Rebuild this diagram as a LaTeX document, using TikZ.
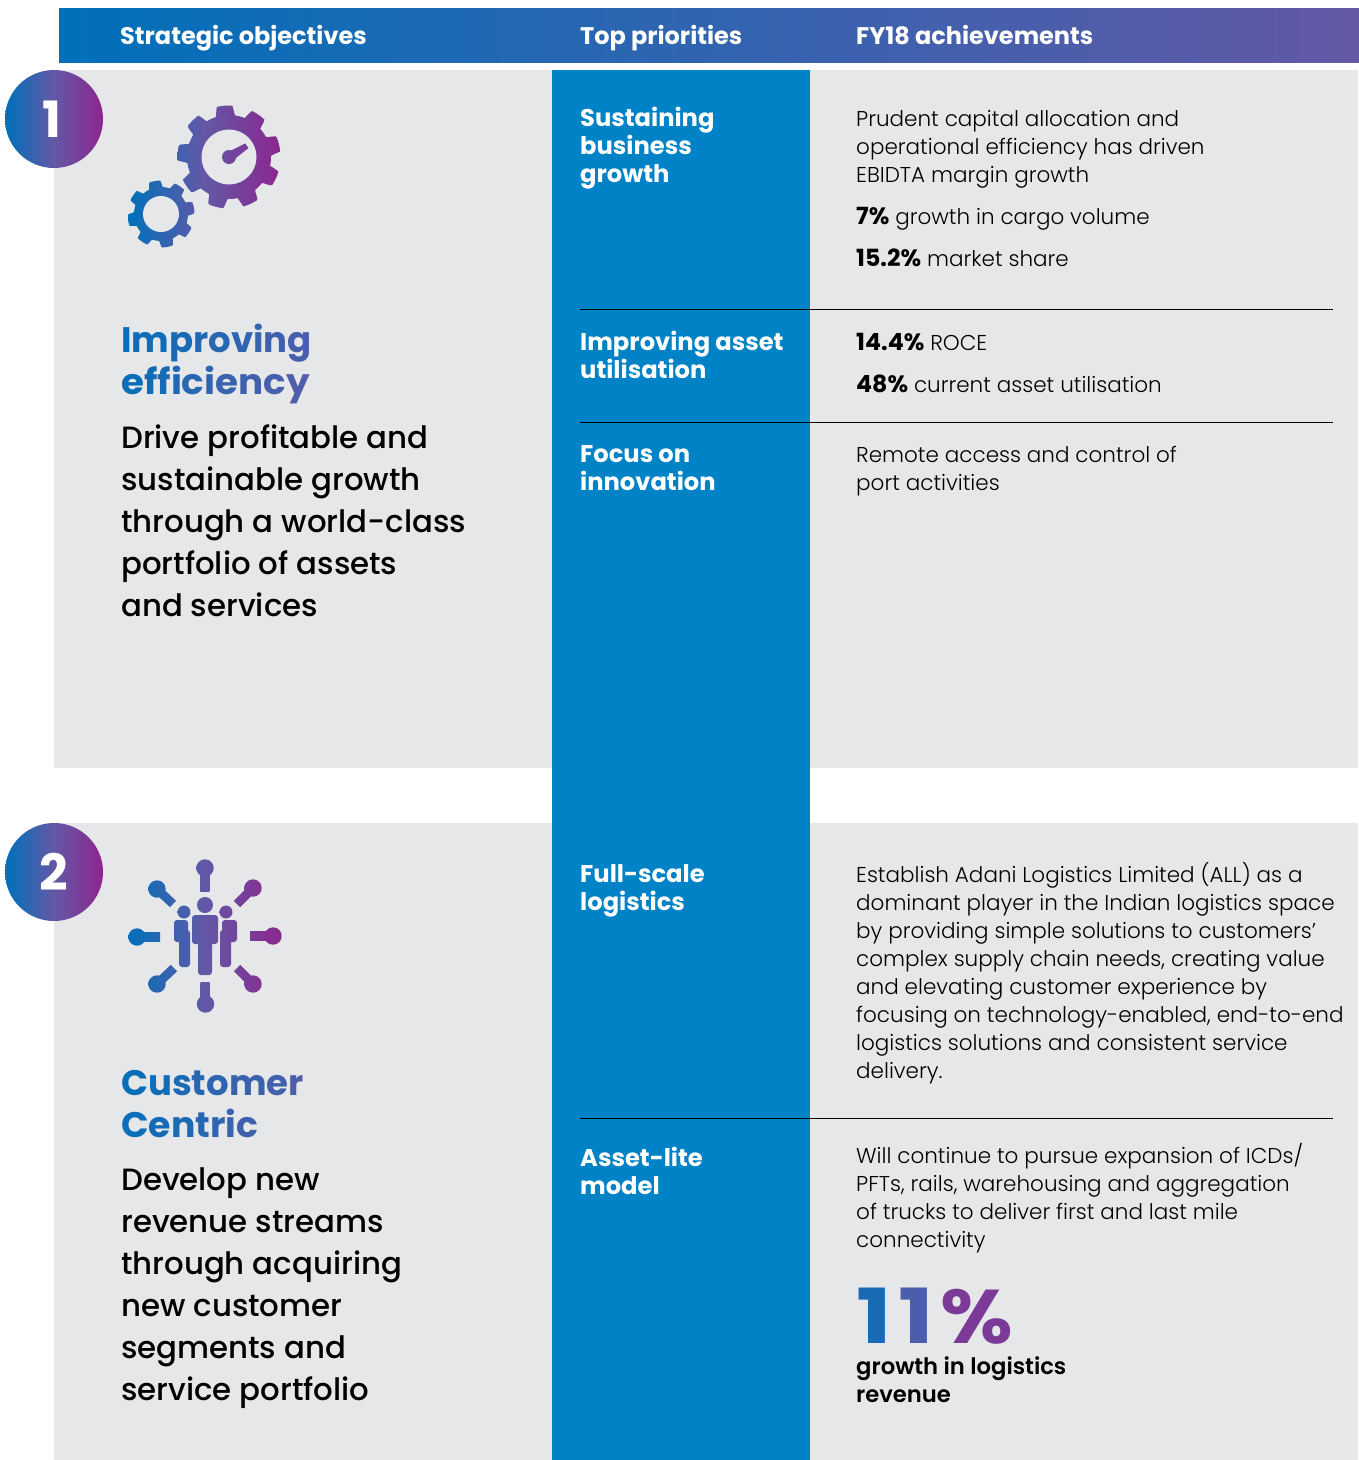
\documentclass[tikz,border=0pt]{standalone}
\usepackage{fontspec}
\setmainfont{Poppins}
\newfontfamily\fL{Poppins}[UprightFont=* Light, BoldFont=* Bold, BoldFeatures={Scale=1.1}]
\newfontfamily\fM{Poppins}[UprightFont=* Medium, BoldFont=* Bold]
\newfontfamily\fS{Poppins}[UprightFont=* SemiBold, BoldFont=* Bold]
\definecolor{gA}{HTML}{0070BA}
\definecolor{gM}{HTML}{6358A6}
\definecolor{gB}{HTML}{8C268E}
\definecolor{panel}{HTML}{E6E7E9}
\definecolor{band}{HTML}{0082C6}
\newcount\gc
\makeatletter
\newcommand\gradword[3]{\gc=#1\relax\@tfor\gtok:=#3\do{\color{gM!\the\gc!gA}\gtok\global\advance\gc by #2\relax}}
\makeatother
% fill a shape with a gradient shared by the whole icon spanning x=#1..#2
\newcommand\gshape[3]{\begin{scope}\clip #3;\shade[left color=gA,right color=gB,middle color=gM] (#1,800) rectangle (#2,1100);\end{scope}}
\newcommand\gshapeB[3]{\begin{scope}\clip #3;\shade[left color=gA,right color=gB,middle color=gM] (#1,60) rectangle (#2,300);\end{scope}}
\tikzset{
 x=1pt,y=-1pt,
 body/.style={anchor=base west,inner sep=0pt,align=left,text=black,font=\fL\fontsize{21.5}{28}\selectfont},
 prio/.style={anchor=base west,inner sep=0pt,align=left,text=white,font=\fM\bfseries\fontsize{24.2}{28}\selectfont},
 hdr/.style={anchor=base west,inner sep=0pt,text=white,font=\fM\bfseries\fontsize{24}{28}\selectfont},
 title/.style={anchor=base west,inner sep=0pt,align=left,font=\fM\bfseries\fontsize{35.5}{42}\selectfont},
 desc/.style={anchor=base west,inner sep=0pt,align=left,text=black,font=\fM\fontsize{30.8}{42}\selectfont},
 numeral/.style={inner sep=0pt,text=white,font=\fM\bfseries\fontsize{50}{50}\selectfont},
 rulel/.style={draw=black,line width=1pt},
}
\begin{document}
\begin{tikzpicture}
\useasboundingbox (0,0) rectangle (1359,1460);
\shade[left color=gA,right color=gM] (59,8) rectangle (1359,62.7);
\fill[panel] (54,70) rectangle (1358,768);
\fill[panel] (54,823) rectangle (1358,1460);
\fill[band] (552,70) rectangle (810,1460);
% header
\node[hdr] (h1) at (120,44) {Strategic objectives};
\node[hdr] (h2) at (580,44) {Top priorities};
\node[hdr] (h3) at (856,44) {FY18 achievements};
% number badges
\shade[left color=gA,right color=gB,middle color=gM] (54,119) circle (49);
\shade[left color=gA,right color=gB,middle color=gM] (54,872) circle (49);
\node[numeral] (n1) at (52,119) {1};
\node[numeral] (n2) at (54,872) {2};
% gears
\gshapeB{128}{281}{(161,214) plot[domain=0:360,samples=200,variable=\t] ({161+(27+6.5*min(1,max(0,0.7+1.6*cos(8*(\t+101)))))*cos(\t)},{214+(27+6.5*min(1,max(0,0.7+1.6*cos(8*(\t+101)))))*sin(\t)}) -- cycle}
\gshapeB{128}{281}{(229,157) plot[domain=0:360,samples=240,variable=\t] ({229+(42+9.5*min(1,max(0,0.7+1.6*cos(9*(\t+95)))))*cos(\t)},{157+(42+9.5*min(1,max(0,0.7+1.6*cos(9*(\t+95)))))*sin(\t)}) -- cycle}
\fill[panel] (161,214) circle (18);
\fill[panel] (229,157) circle (27.5);
\gshapeB{128}{281}{(229,157) circle (7)}
\gshapeB{128}{281}{(226,153) -- (245,143.5) -- (248.5,148) -- (232,161) -- cycle}
% network icon
\gshape{128}{282}{(205,868) circle (8.7)}
\gshape{128}{282}{(200.3,868) rectangle (209.3,891)}
\gshape{128}{282}{(205.5,1004) circle (8.7)}
\gshape{128}{282}{(200.7,982) rectangle (209.7,1004)}
\gshape{128}{282}{(137,937) circle (8.7)}
\gshape{128}{282}{(137,932.5) rectangle (160,941.5)}
\gshape{128}{282}{(273,936) circle (8.7)}
\gshape{128}{282}{(250,931.5) rectangle (273,940.5)}
\gshape{128}{282}{(157,889) circle (8.7)}
\gshape{128}{282}{(160.2,885.8) -- (176,900.8) -- (170,907.2) -- (153.8,892.2) -- cycle}
\gshape{128}{282}{(253,888) circle (8.7)}
\gshape{128}{282}{(249.8,884.8) -- (256.2,891.2) -- (240.2,907.2) -- (233.8,900.8) -- cycle}
\gshape{128}{282}{(157,984) circle (8.7)}
\gshape{128}{282}{(153.8,980.8) -- (170.8,964.8) -- (177.2,971.2) -- (160.2,987.2) -- cycle}
\gshape{128}{282}{(253,984) circle (8.7)}
\gshape{128}{282}{(256.2,980.8) -- (240.2,964.8) -- (233.8,971.2) -- (249.8,987.2) -- cycle}
\gshape{128}{282}{(205,905) circle (8)}
\gshape{128}{282}{(184,912) circle (6.5)}
\gshape{128}{282}{(226,912) circle (6.5)}
\begin{scope}[rounded corners=3pt]
\gshape{128}{282}{(192,915) rectangle (218,944)}
\gshape{128}{282}{(198,930) rectangle (212,975)}
\gshape{128}{282}{(174,920) rectangle (188,942)}
\gshape{128}{282}{(179,930) rectangle (190,967)}
\gshape{128}{282}{(222,920) rectangle (237,942)}
\gshape{128}{282}{(220,930) rectangle (231,967)}
\end{scope}
% left column
\node[title] (t1) at (121,394) {\gradword{8}{8}{Improving}\\\scalebox{1.05}[1]{\gradword{8}{8}{efficiency}}};
\node[desc] (d1) at (121,616) {Drive profitable and\\sustainable growth\\through a world-class\\portfolio of assets\\and services};
\node[title] (t2) at (121,1137) {\gradword{8}{10}{Customer}\\\scalebox{1.02}[1]{\gradword{10}{9}{Centric}}};
\node[desc] (d2) at (121,1400) {Develop new\\revenue streams\\through acquiring\\new customer\\segments and\\service portfolio};
% priorities
\node[prio] (p1) at (580,182) {Sustaining\\business\\growth};
\node[prio] (p2) at (580,378) {Improving asset\\utilisation};
\node[prio] (p3) at (580,490) {Focus on\\innovation};
\node[prio] (p4) at (580,910) {Full-scale\\logistics};
\node[prio] (p5) at (580,1194) {Asset-lite\\model};
% achievements
\node[body] (a1) at (856,182) {Prudent capital allocation and\\operational efficiency has driven\\EBIDTA margin growth};
\node[body] (a2) at (856,224) {\textbf{7\%} growth in cargo volume};
\node[body] (a3) at (856,266) {\textbf{15.2\%} market share};
\node[body] (a4) at (856,350) {\textbf{14.4\%} ROCE};
\node[body] (a5) at (856,392) {\textbf{48\%} current asset utilisation};
\node[body] (a6) at (856,490) {Remote access and control of\\port activities};
\node[body] (a7) at (856,1078) {Establish Adani Logistics Limited (ALL) as a\\dominant player in the Indian logistics space\\by providing simple solutions to customers’\\complex supply chain needs, creating value\\and elevating customer experience by\\focusing on technology-enabled, end-to-end\\logistics solutions and consistent service\\delivery.};
\node[body] (a8) at (856,1247) {Will continue to pursue expansion of ICDs/\\PFTs, rails, warehousing and aggregation\\of trucks to deliver first and last mile\\connectivity};
\node[anchor=base west,inner sep=0pt,font=\fM\bfseries\fontsize{76}{76}\selectfont] (big) at (856,1343) {\scalebox{1.25}[1]{\color{gM!25!gA}1}\kern7pt\scalebox{1.25}[1]{\color{gM!75!gA}1}\kern6pt\scalebox{1.1}[1]{\color{gM!40!gB}\%}};
\node[anchor=base west,inner sep=0pt,align=left,text=black,font=\fS\fontsize{22.7}{28}\selectfont] (cap) at (856,1402) {growth in logistics\\revenue};
% rules
\coordinate (r1a) at (580,309.5); \coordinate (r1b) at (1333,309.5);
\coordinate (r2a) at (580,422.5); \coordinate (r2b) at (1333,422.5);
\coordinate (r3a) at (580,1118.5); \coordinate (r3b) at (1333,1118.5);
\draw[rulel] (r1a) -- (r1b);
\draw[rulel] (r2a) -- (r2b);
\draw[rulel] (r3a) -- (r3b);
\end{tikzpicture}
\end{document}
